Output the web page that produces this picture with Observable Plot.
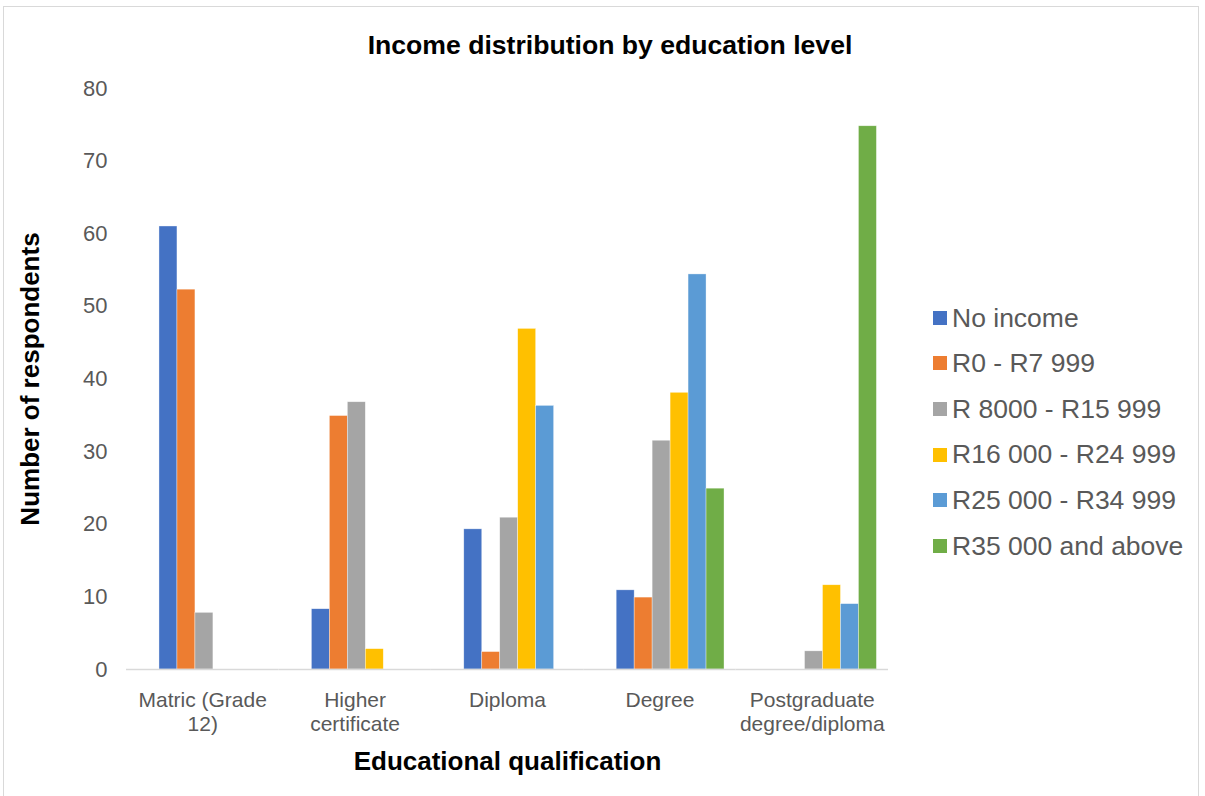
<!DOCTYPE html>
<html>
<head>
<meta charset="utf-8">
<script src="https://cdn.jsdelivr.net/npm/d3@7"></script>
<script src="https://cdn.jsdelivr.net/npm/@observablehq/plot@0.6"></script>
<style>
  html, body { margin: 0; padding: 0; background: #fff; }
  body { font-family: "Liberation Sans", Arial, sans-serif; }
  #wrap { position: relative; width: 1205px; height: 796px; overflow: hidden; }
  #frame { position: absolute; left: 3px; top: 6px; width: 1196px; height: 800px; border: 1px solid #d9d9d9; box-sizing: border-box; }
  #title { position: absolute; left: 0; width: 1220px; top: 32px; text-align: center; font-weight: bold; font-size: 26.6px; line-height: 1; color: #000; }
  #chart { position: absolute; left: 0; top: 0; }
  #legend { position: absolute; left: 933px; top: 295px; }
  .item { height: 45.6px; display: flex; align-items: center; font-size: 26.5px; line-height: 1; color: #595959; white-space: nowrap; }
  .sw { width: 14px; height: 14px; margin-right: 5px; flex: none; }
</style>
</head>
<body>
<div id="wrap">
  <div id="frame"></div>
  <div id="chart"></div>
  <div id="title">Income distribution by education level</div>
  <div id="legend"></div>
</div>
<script>
const categories = ["Matric (Grade 12)", "Higher certificate", "Diploma", "Degree", "Postgraduate degree/diploma"];
const categoryLabels = ["Matric (Grade\n12)", "Higher\ncertificate", "Diploma", "Degree", "Postgraduate\ndegree/diploma"];
const series = ["No income", "R0 - R7 999", "R 8000 - R15 999", "R16 000 - R24 999", "R25 000 - R34 999", "R35 000 and above"];
const colors = ["#4472C4", "#ED7D31", "#A5A5A5", "#FFC000", "#5B9BD5", "#70AD47"];

const noIncome = [61, 8.3, 19.3, 10.9, 0];
const r0to7999 = [52.3, 34.9, 2.4, 9.9, 0];
const r8000to15999 = [7.8, 36.8, 20.9, 31.5, 2.5];
const r16000to24999 = [0, 2.8, 46.9, 38.1, 11.6];
const r25000to34999 = [0, 0, 36.3, 54.4, 9.0];
const r35000plus = [0, 0, 0, 24.9, 74.8];

const yTicks = [0, 10, 20, 30, 40, 50, 60, 70, 80];

const seriesValues = [noIncome, r0to7999, r8000to15999, r16000to24999, r25000to34999, r35000plus];
const data = [];
categories.forEach((c, i) => {
  series.forEach((s, j) => {
    const v = seriesValues[j][i];
    if (v > 0) data.push({category: c, series: s, value: v});
  });
});

const font = "'Liberation Sans', Arial, sans-serif";
const chart = Plot.plot({
  width: 1205,
  height: 796,
  marginLeft: 126,
  marginRight: 317,
  marginTop: 88,
  marginBottom: 127,
  style: {fontFamily: font, background: "transparent", overflow: "visible"},
  fx: {domain: categories, padding: 0, label: null, round: false},
  x: {domain: series, paddingInner: 0, paddingOuter: 1.24, align: 0.74, round: false, axis: null},
  y: {domain: [0, 80], label: null},
  color: {domain: series, range: colors},
  marks: [
    Plot.barY(data, {fx: "category", x: "series", y: "value", fill: "series", inset: 0, stroke: "#ffffff", strokeWidth: 0.6, strokeOpacity: 0.6}),
    Plot.ruleY([0], {stroke: "#d9d9d9", strokeWidth: 1.5}),
    Plot.axisY({ticks: yTicks, tickSize: 0, tickPadding: 19, fontSize: 22, fill: "#595959", label: null}),
    Plot.axisY({ticks: [], label: "Number of respondents", labelAnchor: "center", labelArrow: "none", labelOffset: 106, fontSize: 26, fontWeight: "bold", fill: "#000"}),
    Plot.axisFx({anchor: "bottom", tickSize: 0, tickPadding: 20, fontSize: 21, lineHeight: 1.15, fill: "#595959", label: null,
      tickFormat: d => categoryLabels[categories.indexOf(d)]}),
    Plot.axisFx({anchor: "bottom", ticks: [], label: "Educational qualification", labelAnchor: "center", labelArrow: "none", labelOffset: 100, fontSize: 26, fontWeight: "bold", fill: "#000"})
  ]
});
document.getElementById("chart").appendChild(chart);

const legend = document.getElementById("legend");
series.forEach((s, j) => {
  const item = document.createElement("div");
  item.className = "item";
  const sw = document.createElement("span");
  sw.className = "sw";
  sw.style.background = colors[j];
  item.appendChild(sw);
  item.appendChild(document.createTextNode(s));
  legend.appendChild(item);
});
</script>
</body>
</html>
